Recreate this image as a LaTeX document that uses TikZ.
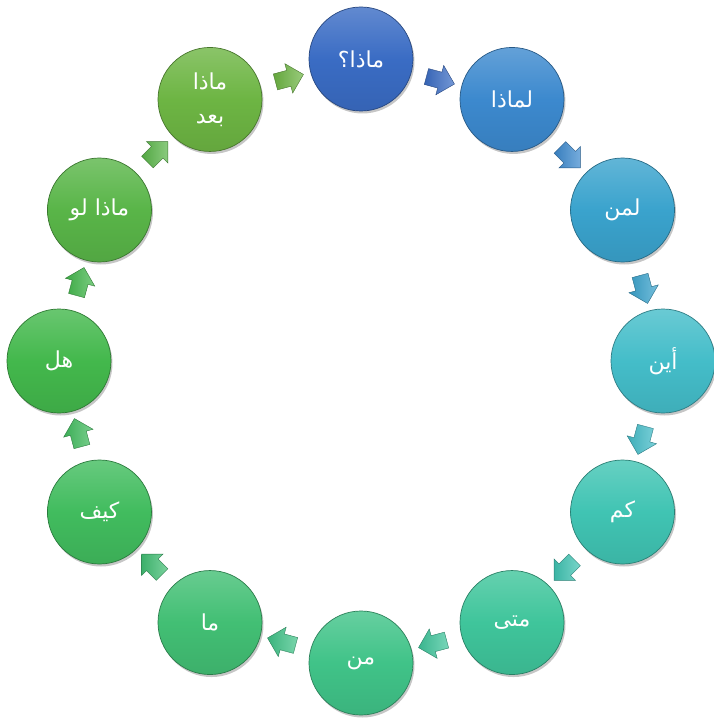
\documentclass[tikz,border=0pt]{standalone}
\usepackage{fontspec}
\usetikzlibrary{shapes.arrows,shadows,calc}
\TeXXeTstate=1
\newfontfamily\arabicfont[Script=Arabic]{DejaVu Sans}

\definecolor{colWhat}{HTML}{3A6CC4}
\definecolor{colWhy}{HTML}{3C89CE}
\definecolor{colWhom}{HTML}{3AA3CD}
\definecolor{colWhere}{HTML}{44BDC9}
\definecolor{colHowMany}{HTML}{40C4B3}
\definecolor{colWhen}{HTML}{3FC59B}
\definecolor{colWho}{HTML}{40C388}
\definecolor{colThat}{HTML}{42BF74}
\definecolor{colHow}{HTML}{41BC5E}
\definecolor{colIs}{HTML}{43B84C}
\definecolor{colWhatIf}{HTML}{59B548}
\definecolor{colWhatNext}{HTML}{6DB543}

\begin{document}
\begin{tikzpicture}[
    x=1pt, y=1pt,
    question/.style={circle, minimum size=104pt, inner sep=0pt, line width=0.7pt,
        draw=#1!65!black, top color=#1!80!white, bottom color=#1!92!black, middle color=#1,
        text=white, align=center, font=\arabicfont\fontsize{22}{34}\selectfont,
        drop shadow={opacity=0.45, shadow xshift=1.5pt, shadow yshift=-2.5pt}},
    step_arrow/.style={single arrow, minimum height=29pt, inner sep=8pt,
        single arrow head extend=7pt, line width=0.4pt,
        draw=#1!65!black, left color=#1!92!black, right color=#1!70!white}
]
\useasboundingbox (-361,-360) rectangle (352,361);

% Questions (clockwise from the top)
\node[question=colWhat]     (what)     at (90:302)  {\beginR ماذا؟\endR};
\node[question=colWhy]      (why)      at (60:302)  {\beginR لماذا\endR};
\node[question=colWhom]     (whom)     at (30:302)  {\beginR لمن\endR};
\node[question=colWhere]    (where)    at (0:302)   {\beginR أين\endR};
\node[question=colHowMany]  (howmany)  at (-30:302) {\beginR كم\endR};
\node[question=colWhen]     (when)     at (-60:302) {\beginR متى\endR};
\node[question=colWho]      (who)      at (-90:302) {\beginR من\endR};
\node[question=colThat]     (that)     at (-120:302) {\beginR ما\endR};
\node[question=colHow]      (how)      at (-150:302) {\beginR كيف\endR};
\node[question=colIs]       (is)       at (180:302) {\beginR هل\endR};
\node[question=colWhatIf]   (whatif)   at (150:302) {\beginR ماذا لو\endR};
\node[question=colWhatNext] (whatnext) at (120:302) {\beginR ماذا\endR\\\beginR بعد\endR};

% Arrows between neighbours
\node[step_arrow=colWhat, rotate=-15]      at ($(what)!0.5!(why)$) {};
\node[step_arrow=colWhy, rotate=-45]       at ($(why)!0.5!(whom)$) {};
\node[step_arrow=colWhom, rotate=-75]      at ($(whom)!0.5!(where)$) {};
\node[step_arrow=colWhere, rotate=-105]    at ($(where)!0.5!(howmany)$) {};
\node[step_arrow=colHowMany, rotate=-135]  at ($(howmany)!0.5!(when)$) {};
\node[step_arrow=colWhen, rotate=-165]     at ($(when)!0.5!(who)$) {};
\node[step_arrow=colWho, rotate=165]       at ($(who)!0.5!(that)$) {};
\node[step_arrow=colThat, rotate=135]      at ($(that)!0.5!(how)$) {};
\node[step_arrow=colHow, rotate=105]       at ($(how)!0.5!(is)$) {};
\node[step_arrow=colIs, rotate=75]         at ($(is)!0.5!(whatif)$) {};
\node[step_arrow=colWhatIf, rotate=45]     at ($(whatif)!0.5!(whatnext)$) {};
\node[step_arrow=colWhatNext, rotate=15]   at ($(whatnext)!0.5!(what)$) {};
\end{tikzpicture}
\end{document}
